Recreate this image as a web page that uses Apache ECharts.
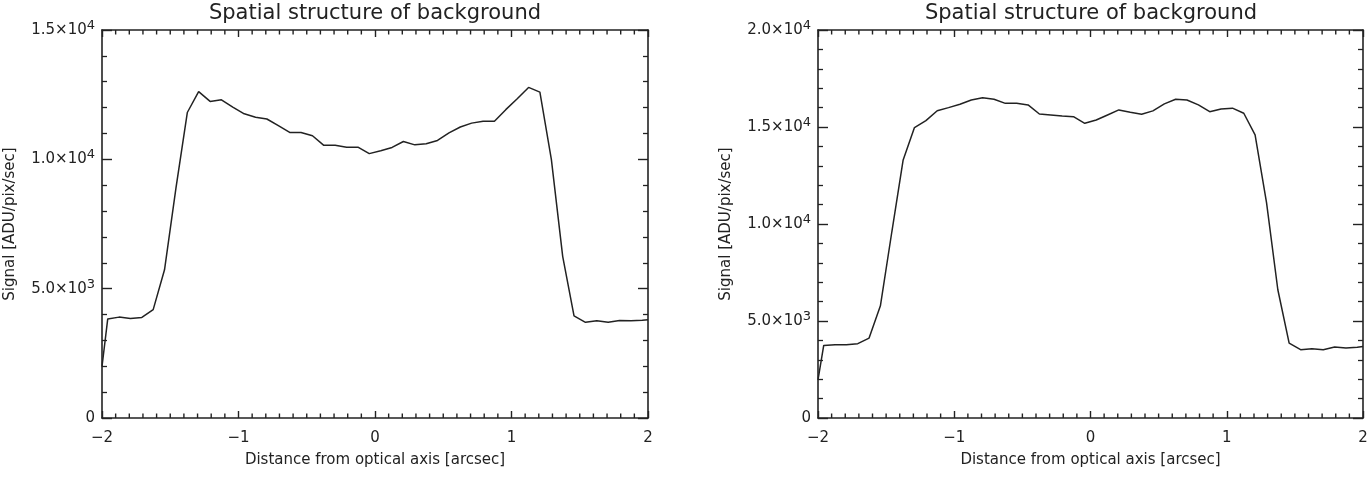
<!DOCTYPE html>
<html><head><meta charset="utf-8">
<script src="https://cdn.jsdelivr.net/npm/echarts@6/dist/echarts.min.js"></script>
<style>html,body{margin:0;padding:0;background:#fff}#c{width:1371px;height:480px}</style>
</head><body><div id="c"></div>
<script>
// ---- data ----
const distance = [-2.000, -1.958, -1.875, -1.792, -1.708, -1.625, -1.542, -1.458, -1.375, -1.292,
  -1.208, -1.125, -1.042, -0.958, -0.875, -0.792, -0.708, -0.625, -0.542, -0.458,
  -0.375, -0.292, -0.208, -0.125, -0.042, 0.042, 0.125, 0.208, 0.292, 0.375,
  0.458, 0.542, 0.625, 0.708, 0.792, 0.875, 0.958, 1.042, 1.125, 1.208,
  1.292, 1.375, 1.458, 1.542, 1.625, 1.708, 1.792, 1.875, 1.958, 2.000];
const signalLeft = [1990, 3830, 3900, 3850, 3890, 4190, 5730, 8900, 11810, 12620,
  12240, 12300, 12020, 11760, 11630, 11560, 11300, 11040, 11040, 10910,
  10540, 10540, 10470, 10470, 10220, 10330, 10460, 10690, 10560, 10600,
  10730, 11020, 11250, 11400, 11470, 11470, 11920, 12340, 12780, 12600,
  10000, 6250, 3950, 3700, 3760, 3700, 3770, 3760, 3780, 3800];
const signalRight = [1970, 3740, 3780, 3780, 3830, 4120, 5780, 9600, 13300, 14970,
  15330, 15840, 16000, 16170, 16390, 16510, 16430, 16220, 16220, 16140,
  15670, 15620, 15570, 15530, 15190, 15360, 15620, 15880, 15760, 15660,
  15830, 16190, 16430, 16390, 16140, 15790, 15930, 15970, 15710, 14590,
  11100, 6610, 3860, 3520, 3570, 3520, 3660, 3610, 3650, 3690];
const xTickValues = [-2, -1, 0, 1, 2];
const xTickLabels = ['\u22122', '\u22121', '0', '1', '2'];
const xMinorTickValues = [-1.9, -1.8, -1.7, -1.6, -1.5, -1.4, -1.3, -1.2, -1.1,
  -0.9, -0.8, -0.7, -0.6, -0.5, -0.4, -0.3, -0.2, -0.1,
  0.1, 0.2, 0.3, 0.4, 0.5, 0.6, 0.7, 0.8, 0.9,
  1.1, 1.2, 1.3, 1.4, 1.5, 1.6, 1.7, 1.8, 1.9];
const yTickValuesLeft = [0, 5000, 10000, 15000];
const yMantissaLeft = ['0', '5.0\u00d710', '1.0\u00d710', '1.5\u00d710'];
const yExponentLeft = ['', '3', '4', '4'];
const yTickValuesRight = [0, 5000, 10000, 15000, 20000];
const yMantissaRight = ['0', '5.0\u00d710', '1.0\u00d710', '1.5\u00d710', '2.0\u00d710'];
const yExponentRight = ['', '3', '4', '4', '4'];
const titleText = 'Spatial structure of background';
const xTitle = 'Distance from optical axis [arcsec]';
const yTitle = 'Signal [ADU/pix/sec]';

// ---- styling ----
const FONT = 'DejaVu Sans';
const INK = '#222';
const chart = echarts.init(document.getElementById('c'), null, {renderer: 'canvas'});

function xAxisDef(gridIndex, position, withLabels) {
  return {
    type: 'value', gridIndex, position, min: -2, max: 2, interval: 1,
    axisLine: {show: true, onZero: false, lineStyle: {color: INK, width: 1.6}},
    axisTick: {show: true, inside: true, length: 7, lineStyle: {color: INK, width: 1.4}},
    minorTick: {show: false},
    splitLine: {show: false},
    axisLabel: {show: withLabels, margin: 13, color: INK, fontFamily: FONT, fontSize: 15,
      formatter: v => { const i = xTickValues.indexOf(v); return i >= 0 ? xTickLabels[i] : ''; }},
    name: withLabels ? xTitle : '', nameLocation: 'middle', nameGap: 35,
    nameTextStyle: {color: INK, fontFamily: FONT, fontSize: 15}
  };
}
function yAxisDef(gridIndex, position, withLabels, max, vals, mant, expo) {
  return {
    type: 'value', gridIndex, position, min: 0, max, interval: 5000,
    axisLine: {show: true, onZero: false, lineStyle: {color: INK, width: 1.6}},
    axisTick: {show: true, inside: true, length: 10, lineStyle: {color: INK, width: 1.4}},
    minorTick: {show: true, splitNumber: 5, length: 5, lineStyle: {color: INK, width: 1.3}},
    splitLine: {show: false}, minorSplitLine: {show: false},
    axisLabel: {show: withLabels, margin: 7, color: INK, fontFamily: FONT, fontSize: 15,
      formatter: v => {
        const i = vals.indexOf(v);
        if (i < 0) return '';
        return expo[i] ? '{m|' + mant[i] + '}{s|' + expo[i] + '}' : '{m|' + mant[i] + '}';
      },
      rich: {
        m: {fontFamily: FONT, fontSize: 15, color: INK},
        s: {fontFamily: FONT, fontSize: 13, color: INK, verticalAlign: 'bottom', padding: [0, 0, 9, 0]}
      }},
    name: withLabels ? yTitle : '', nameLocation: 'middle', nameGap: 84, nameRotate: 90,
    nameTextStyle: {color: INK, fontFamily: FONT, fontSize: 15}
  };
}

// minor x ticks (bottom and top frame) drawn through the axis scales
function minorTickSeries(xAxisIndex, yAxisIndex, yMax) {
  return {
    type: 'custom', coordinateSystem: 'cartesian2d', xAxisIndex, yAxisIndex, clip: false, silent: true,
    z: 10,
    data: xMinorTickValues.map(v => [v, 0]),
    renderItem: function (params, api) {
      const v = api.value(0);
      const b = api.coord([v, 0]);
      const t = api.coord([v, yMax]);
      return {type: 'group', children: [
        {type: 'line', shape: {x1: b[0], y1: b[1], x2: b[0], y2: b[1] - 4.5},
         style: {stroke: INK, lineWidth: 1.4}},
        {type: 'line', shape: {x1: t[0], y1: t[1], x2: t[0], y2: t[1] + 4.5},
         style: {stroke: INK, lineWidth: 1.4}}
      ]};
    }
  };
}

const pairsLeft = distance.map((d, i) => [d, signalLeft[i]]);
const pairsRight = distance.map((d, i) => [d, signalRight[i]]);

chart.setOption({
  animation: false,
  backgroundColor: '#fff',
  title: [
    {text: titleText, left: 375, top: 3, textAlign: 'center', padding: 0,
     textStyle: {fontFamily: FONT, fontSize: 21, fontWeight: 'normal', color: INK}},
    {text: titleText, left: 1091, top: 3, textAlign: 'center', padding: 0,
     textStyle: {fontFamily: FONT, fontSize: 21, fontWeight: 'normal', color: INK}}
  ],
  grid: [
    {left: 102, right: 723, top: 30, bottom: 62, containLabel: false},
    {left: 818, right: 8, top: 30, bottom: 62, containLabel: false}
  ],
  xAxis: [
    xAxisDef(0, 'bottom', true), xAxisDef(0, 'top', false),
    xAxisDef(1, 'bottom', true), xAxisDef(1, 'top', false)
  ],
  yAxis: [
    yAxisDef(0, 'left', true, 15000, yTickValuesLeft, yMantissaLeft, yExponentLeft),
    yAxisDef(0, 'right', false, 15000, yTickValuesLeft, yMantissaLeft, yExponentLeft),
    yAxisDef(1, 'left', true, 20000, yTickValuesRight, yMantissaRight, yExponentRight),
    yAxisDef(1, 'right', false, 20000, yTickValuesRight, yMantissaRight, yExponentRight)
  ],
  series: [
    {type: 'line', xAxisIndex: 0, yAxisIndex: 0, data: pairsLeft, showSymbol: false, clip: true,
     lineStyle: {color: INK, width: 1.5}},
    {type: 'line', xAxisIndex: 2, yAxisIndex: 2, data: pairsRight, showSymbol: false, clip: true,
     lineStyle: {color: INK, width: 1.5}},
    minorTickSeries(0, 0, 15000),
    minorTickSeries(2, 2, 20000)
  ]
});
</script></body></html>
